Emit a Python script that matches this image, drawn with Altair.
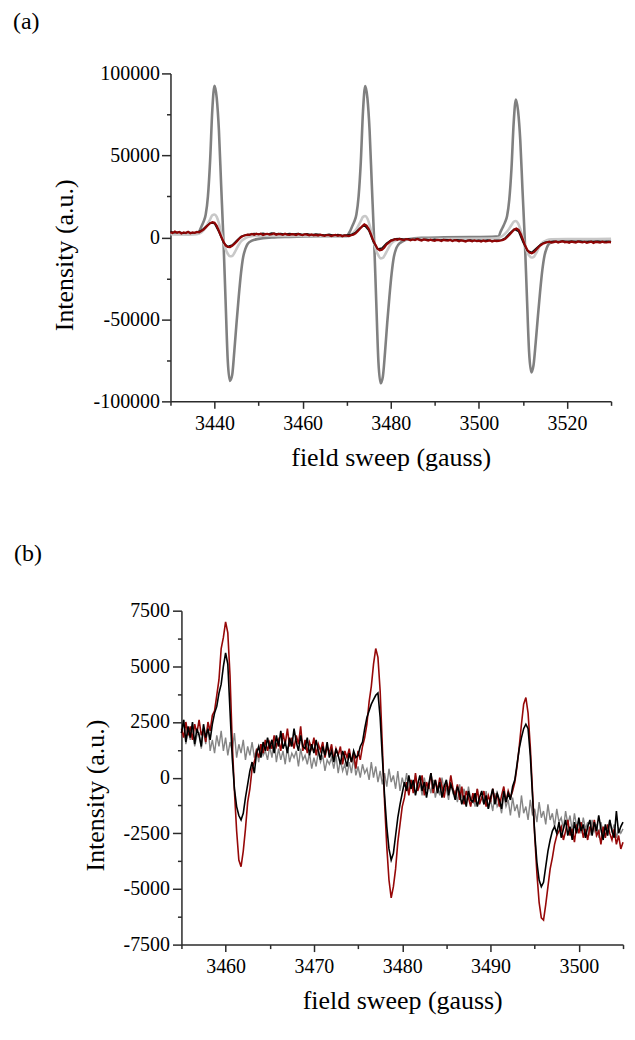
import altair as alt
import pandas as pd

# ---------------- Panel (a) data ----------------
a_dark_x = [3430.0, 3432.0, 3434.0, 3435.5, 3436.5, 3437.0, 3437.5, 3438.0, 3438.5, 3439.0, 3439.5, 3440.0,
            3440.5, 3441.0, 3441.5, 3442.0, 3442.5, 3443.0, 3443.5, 3444.0, 3444.5, 3445.0, 3445.5, 3446.0,
            3446.5, 3447.0, 3447.5, 3448.5, 3450.0, 3453.0, 3457.0, 3462.0, 3467.0, 3470.0,
            3470.7, 3471.2, 3471.7, 3472.2, 3472.7, 3473.2, 3473.7, 3474.2, 3474.7, 3475.2, 3475.7, 3476.2,
            3476.7, 3477.2, 3477.7, 3478.2, 3478.7, 3479.2, 3479.7, 3480.2, 3480.7, 3481.2, 3481.7, 3482.7,
            3484.0, 3487.0, 3492.0, 3498.0, 3503.0, 3504.5,
            3504.9, 3505.4, 3505.9, 3506.4, 3506.9, 3507.4, 3507.9, 3508.4, 3508.9, 3509.4, 3509.9, 3510.4,
            3510.9, 3511.4, 3511.9, 3512.4, 3512.9, 3513.4, 3513.9, 3514.4, 3514.9, 3515.4, 3515.9, 3516.9,
            3518.5, 3522.0, 3526.0, 3530.0]
a_dark_y = [2200, 2100, 2000, 2200, 3500, 6500, 9500, 14000, 25000, 47000, 78000, 92500,
            85000, 65000, 32000, 0, -38000, -75000, -87500, -84000, -69000, -52000, -36000, -22000,
            -12000, -7000, -4000, -2000, -900, -100, 300, 600, 800, 1000,
            3500, 6500, 9500, 14000, 25000, 46000, 77000, 92300, 85000, 65000, 32000, 0,
            -39000, -76000, -89000, -85000, -70000, -52000, -36000, -22000, -12000, -7000, -4500, -2500,
            -1200, -300, 0, 200, 300, 600,
            3300, 6000, 9000, 13000, 23000, 42000, 70000, 84100, 77000, 59000, 29000, 0,
            -36000, -70000, -82300, -78000, -64000, -48000, -33000, -20000, -11000, -6500, -4000, -2500,
            -1700, -1500, -1400, -1400]

a_light_x = [3430.0, 3434.0, 3436.0, 3437.0, 3438.0, 3439.0, 3439.5, 3440.0, 3440.5, 3441.0, 3441.5, 3442.0,
             3442.5, 3443.0, 3443.5, 3444.0, 3444.5, 3445.0, 3445.5, 3446.0, 3447.0, 3448.0, 3450.0, 3460.0,
             3470.0,
             3471.2, 3472.2, 3473.2, 3473.7, 3474.2, 3474.7, 3475.2, 3475.7, 3476.2, 3476.7, 3477.2, 3477.7,
             3478.2, 3478.7, 3479.2, 3479.7, 3480.2, 3481.2, 3482.2, 3485.0, 3495.0, 3504.0,
             3505.4, 3506.4, 3507.4, 3507.9, 3508.4, 3508.9, 3509.4, 3509.9, 3510.4, 3510.9, 3511.4, 3511.9,
             3512.4, 3512.9, 3513.4, 3513.9, 3514.4, 3515.4, 3516.4, 3520.0, 3525.0, 3530.0]
a_light_y = [2000, 1800, 2000, 3000, 6000, 11000, 13500, 14000, 12500, 8500, 3000, -2500,
             -7000, -10000, -11500, -11300, -9500, -7000, -4500, -2500, -500, 500, 1000, 800,
             400,
             2000, 5000, 10000, 12500, 13000, 11500, 7500, 2000, -3500, -8000, -11000, -12800,
             -12500, -10500, -8000, -5500, -3500, -1800, -1200, -1000, -900, -600,
             1000, 3500, 7500, 9500, 10000, 8500, 5000, 0, -4500, -8500, -11000, -12300,
             -12000, -10000, -7500, -5000, -3200, -1800, -1200, -1000, -1000, -900]

a_red_start, a_red_step = 3430.0, 0.5
a_red_y = [3200, 2600, 3500, 2800, 3300, 2400, 3100, 2700, 3400, 2500, 3000, 2800,
           3300, 3100, 3900, 4700, 6100, 7400, 8600, 9300, 8900, 7100, 3900, 600,
           -2400, -4900, -5800, -6000, -5100, -4000, -2600, -1100, 100, 900, 1300, 1700,
           1500, 2100, 1600, 2200, 1800, 2300, 1500, 2000, 2200, 1700, 1900, 2400,
           1600, 2100, 1900, 1500, 2200, 1700, 1500, 2000, 1800, 1400, 2100, 1600,
           1400, 1900, 1700, 1200, 1800, 1300, 1500, 1100, 1600, 1200, 900, 1400,
           1300, 800, 1200, 1500, 900, 1300, 700, 1200, 1000, 800, 1300, 1600,
           2400, 3800, 5300, 6700, 7900, 7200, 5100, 2000, -1600, -4400, -6900, -7900,
           -7500, -6300, -4400, -3300, -2100, -1700, -1100, -1500, -900, -1400, -1600, -1000,
           -1300, -1800, -1200, -1700, -1000, -1500, -1900, -1300, -1600, -2000, -1400, -1800,
           -2100, -1500, -1700, -2200, -1500, -1900, -2000, -1600, -2300, -1700, -1900, -2400,
           -1800, -2100, -2500, -1900, -2000, -2400, -1800, -2300, -2100, -2600, -1900, -2400,
           -2200, -1800, -2500, -2000, -2300, -2100, -1900, -1500, -900, 400, 1800, 3300,
           4700, 5400, 4600, 2100, -1400, -5000, -7700, -9300, -9700, -9000, -7600, -6000,
           -4800, -3900, -3400, -3000, -2600, -3200, -2900, -2500, -3100, -2700, -2400, -3000,
           -2800, -3300, -2600, -2900, -3200, -2500, -2800, -3100, -2700, -3300, -3000, -2600,
           -3400, -2800, -2900, -3200, -2600, -3000, -3100, -2800, -3000]

a_black_start, a_black_step = 3430.0, 1.0
a_black_y = [3600, 2900, 3300, 2500, 3200, 2700, 3100, 4200, 6600, 8800, 8400, 3200, -3200, -5600,
             -4600, -1900, 600, 1500, 1900, 2400, 2100, 2500, 1900, 2600, 2200, 2400, 1900, 2300,
             2000, 2400, 1800, 2200, 1600, 2000, 1700, 1500, 1900, 1300, 1700, 1200, 1500, 1700,
             3100, 5600, 7400, 4200, -2600, -7000, -6500, -3600, -1700, -900, -700, -1100, -800,
             -1300, -900, -1400, -1100, -1600, -1200, -1700, -1300, -1500, -1900, -1400, -1800,
             -2000, -1600, -2100, -1700, -2000, -1600, -2200, -1800, -1700, -300, 2600, 5000, 3600,
             -3000, -8200, -9100, -6600, -4200, -3000, -2700, -2400, -2800, -2200, -2600, -2300,
             -2700, -2400, -2900, -2500, -2700, -2300, -2800, -2500, -2600]

a_x_ticks = [3430, 3440, 3450, 3460, 3470, 3480, 3490, 3500, 3510, 3520, 3530]
a_y_ticks = [-100000, -75000, -50000, -25000, 0, 25000, 50000, 75000, 100000]

# ---------------- Panel (b) data ----------------
b_start, b_step = 3455.0, 0.25
b_red_y = [2200, 1800, 2500, 1900, 2300, 1700, 2400, 2000, 2600, 1900, 2200, 1600,
           2500, 2100, 2800, 3000, 3700, 4400, 5800, 6300, 7000, 6500, 4600, 1600,
           -600, -2400, -3700, -4000, -3300, -2300, -1100, -500, 400, 700, 1200, 900,
           1500, 1100, 1700, 1200, 1600, 1300, 1900, 1400, 1700, 1200, 2000, 1500,
           2200, 1400, 1800, 1300, 1900, 1500, 2300, 1200, 1700, 1100, 1600, 1300,
           1800, 1000, 1500, 1200, 1600, 900, 1400, 1100, 1500, 800, 1300, 1000,
           1400, 600, 1200, 900, 1300, 700, 1100, 400, 1200, 800, 1400, 1800,
           2400, 3400, 4100, 5100, 5800, 5400, 3900, 1400, -1100, -3100, -4600, -5400,
           -4900, -4100, -2900, -2100, -1300, -900, -200, -800, -100, -700, 200, -600,
           -300, 100, -800, -200, -500, 200, -700, -100, -600, 0, -400, -900,
           -200, -600, 100, -500, -800, -300, -1000, -400, -1200, -600, -900, -1300,
           -700, -1100, -500, -1200, -900, -600, -1300, -800, -1100, -500, -1000, -700,
           -1300, -800, -400, -1100, -600, -900, -600, -200, 500, 1400, 2400, 3300,
           3600, 2900, 1400, -600, -2600, -4300, -5600, -6300, -6400, -5700, -4900, -4100,
           -3600, -3000, -2600, -2400, -2200, -2800, -2400, -1900, -2600, -2300, -2900, -2100,
           -2500, -2000, -2700, -2300, -2800, -2200, -2500, -1900, -2600, -2400, -3000, -2200,
           -2700, -2100, -2500, -2800, -2300, -3000, -2600, -3200, -2900]
b_black_y = [2000, 2600, 1600, 2300, 1800, 2500, 1500, 2200, 1900, 1400, 2400, 1800,
             2200, 1700, 2400, 2900, 3200, 3800, 4200, 5000, 5600, 5100, 3000, 900,
             -500, -1300, -1700, -1900, -1600, -900, -300, 300, 700, 200, 1100, 1400,
             900, 1600, 1200, 1800, 1300, 1700, 1100, 1900, 1400, 2100, 1300, 1600,
             1100, 1800, 1400, 2200, 1600, 1200, 1900, 1400, 1300, 1800, 1000, 1500,
             1100, 1700, 1200, 800, 1400, 1000, 1600, 900, 1200, 700, 1300, 1000,
             600, 1200, 900, 500, 1100, 700, 1200, 900, 1000, 1400, 1600, 2200,
             2700, 3000, 3300, 3500, 3700, 3800, 2700, 900, -800, -2200, -3200, -3700,
             -3400, -2600, -1800, -1200, -700, -200, -600, 100, -500, -100, -800, -300,
             100, -600, -200, -900, -300, 200, -500, -100, -700, -200, -900, -400,
             -100, -800, -300, -600, -1000, -400, -700, -1200, -800, -1300, -600, -1000,
             -1100, -700, -1300, -900, -600, -1200, -800, -1400, -900, -500, -1200, -700,
             -1000, -1400, -600, -1100, -700, -1000, -400, -100, 600, 1300, 1800, 2200,
             2400, 2200, 1000, -800, -2500, -3800, -4600, -4900, -4700, -4000, -3300, -2800,
             -2400, -2200, -2500, -2000, -2700, -2300, -1900, -2600, -2200, -2800, -2000, -2500,
             -1800, -2400, -2100, -2700, -2200, -1900, -2600, -2000, -2400, -1700, -2300, -2800,
             -2100, -2600, -1900, -2400, -2700, -1500, -2500, -2200, -2000]
b_gray_y = [2000, 2600, 1500, 2100, 1700, 2300, 1400, 1900, 2000, 1300, 2200, 1500,
            2400, 1200, 1700, 1100, 1900, 1400, 2100, 1200, 1800, 1000, 1600, 1200,
            2000, 900, 1500, 1100, 1700, 800, 1400, 1000, 1600, 900, 1300, 700,
            1500, 1000, 1200, 800, 1400, 900, 1700, 700, 1300, 800, 1200, 600,
            1400, 700, 1100, 900, 1200, 500, 1300, 800, 1000, 600, 1100, 400,
            900, 500, 1200, 700, 1000, 300, 800, 600, 900, 400, 1000, 200,
            800, 300, 600, 100, 700, 200, 900, 100, 500, 0, 600, 200,
            400, -100, 700, 0, 500, -200, 300, -300, 200, -400, 400, -200,
            100, -500, 300, -600, 0, -400, 200, -700, -100, -600, 100, -500,
            -200, -800, 0, -500, -300, -700, -100, -900, -400, -800, 0, -600,
            -500, -1000, -200, -700, -600, -1100, -300, -900, -500, -1200, -400, -1000,
            -800, -1300, -500, -1100, -900, -1200, -600, -1400, -1000, -1500, -700, -1300,
            -1100, -1600, -800, -1300, -1000, -1700, -900, -1500, -1200, -1800, -800, -1600,
            -1300, -1900, -1000, -1700, -1400, -2000, -1100, -1800, -1500, -2100, -1200, -1900,
            -1600, -2200, -1400, -2000, -1800, -2300, -1500, -2100, -1700, -2400, -1600, -2200,
            -1900, -2500, -1800, -2300, -2000, -2600, -1900, -2400, -2100, -2700, -2000, -2500,
            -2200, -2600, -1900, -2400, -2100, -2700, -2300, -2500, -2300]

b_x_ticks = [3455, 3460, 3465, 3470, 3475, 3480, 3485, 3490, 3495, 3500, 3505]
b_y_ticks = [-7500, -6250, -5000, -3750, -2500, -1250, 0, 1250, 2500, 3750, 5000, 6250, 7500]

X_TITLE = "field sweep (gauss)"
Y_TITLE = "Intensity (a.u.)"
FONT = "Liberation Serif"
AXC = "#2b2b2b"


def frame(xs, ys):
    return pd.DataFrame({"x": xs, "y": ys})


def seq(start, step, ys):
    return [start + step * i for i in range(len(ys))]


def axis_common(**kw):
    base = dict(grid=False, domainColor=AXC, domainWidth=1.5, tickColor=AXC, tickWidth=1.5,
                labelFont=FONT, labelFontSize=20, labelColor="black", labelOverlap=False,
                labelFlush=False, titleFont=FONT, titleFontSize=26, titleFontWeight="normal",
                titleColor="black")
    base.update(kw)
    return alt.Axis(**base)


def panel(layers, xscale, yscale, xaxis, yaxis, title, width, height):
    charts = []
    for df, color, sw, interp in layers:
        c = alt.Chart(df).mark_line(color=color, strokeWidth=sw, interpolate=interp).encode(
            x=alt.X("x:Q", scale=xscale, axis=xaxis),
            y=alt.Y("y:Q", scale=yscale, axis=yaxis),
        )
        charts.append(c)
    return alt.layer(*charts).properties(width=width, height=height, title=title)


# ---------- panel a ----------
a_x_axis = axis_common(
    values=a_x_ticks,
    labelExpr="datum.value % 20 === 0 ? '' + datum.value : ''",
    tickSize={"condition": {"test": "datum.value % 20 === 0", "value": 7}, "value": 4},
    labelPadding=5, title=X_TITLE, titleY=43, titleBaseline="top")
a_y_axis = axis_common(
    values=a_y_ticks,
    labelExpr="datum.value % 50000 === 0 ? '' + datum.value : ''",
    tickSize={"condition": {"test": "datum.value % 50000 === 0", "value": 9}, "value": 4},
    labelPadding=2, title=Y_TITLE, titleX=-106, titleY=182, titleBaseline="middle")

a_xs = alt.Scale(domain=[3430, 3530], nice=False, zero=False)
a_ys = alt.Scale(domain=[-100000, 100000], nice=False, zero=False)

title_style = dict(anchor="start", frame="group", font=FONT, fontSize=24, fontWeight="normal",
                   color="black")

panel_a = panel(
    [
        (frame(a_dark_x, a_dark_y), "#808080", 2.6, "monotone"),
        (frame(a_light_x, a_light_y), "#c8c8c8", 2.6, "monotone"),
        (frame(seq(a_black_start, a_black_step, a_black_y), a_black_y), "#111111", 1.5, "linear"),
        (frame(seq(a_red_start, a_red_step, a_red_y), a_red_y), "#8e0505", 2.2, "linear"),
    ],
    a_xs, a_ys, a_x_axis, a_y_axis,
    alt.TitleParams("(a)", dx=-158, offset=30, **title_style),
    442, 329)

# ---------- panel b ----------
b_x_axis = axis_common(
    values=b_x_ticks,
    labelExpr="datum.value % 10 === 0 ? '' + datum.value : ''",
    tickSize={"condition": {"test": "datum.value % 10 === 0", "value": 7}, "value": 4},
    labelPadding=5, title=X_TITLE, titleY=43, titleBaseline="top")
b_y_axis = axis_common(
    values=b_y_ticks,
    labelExpr="datum.value % 2500 === 0 ? '' + datum.value : ''",
    tickSize={"condition": {"test": "datum.value % 2500 === 0", "value": 9}, "value": 4},
    labelPadding=3, offset=-11, title=Y_TITLE, titleX=-86, titleY=185, titleBaseline="middle")

b_xs = alt.Scale(domain=[3455, 3505], range=[11, 454], nice=False, zero=False)
b_ys = alt.Scale(domain=[-7500, 7500], nice=False, zero=False)

bx = seq(b_start, b_step, b_red_y)
panel_b = panel(
    [
        (frame(bx, b_gray_y), "#858585", 1.4, "linear"),
        (frame(bx, b_red_y), "#960808", 1.6, "linear"),
        (frame(bx, b_black_y), "#000000", 1.6, "linear"),
    ],
    b_xs, b_ys, b_x_axis, b_y_axis,
    alt.TitleParams("(b)", dx=-157, offset=35, **title_style),
    454, 335)

chart = (
    alt.vconcat(panel_a, panel_b, spacing=72)
    .properties(padding={"left": 5, "top": 0, "right": 0, "bottom": 0})
    .configure(font=FONT, background="white")
    .configure_view(strokeWidth=0, stroke="transparent")
    .configure_axis(labelFont=FONT, titleFont=FONT, labelFontSize=20, titleFontSize=26)
    .configure_title(font=FONT, fontSize=24, fontWeight="normal", color="black")
)

chart.save("out.html", embed_options={"renderer": "svg", "actions": False})
